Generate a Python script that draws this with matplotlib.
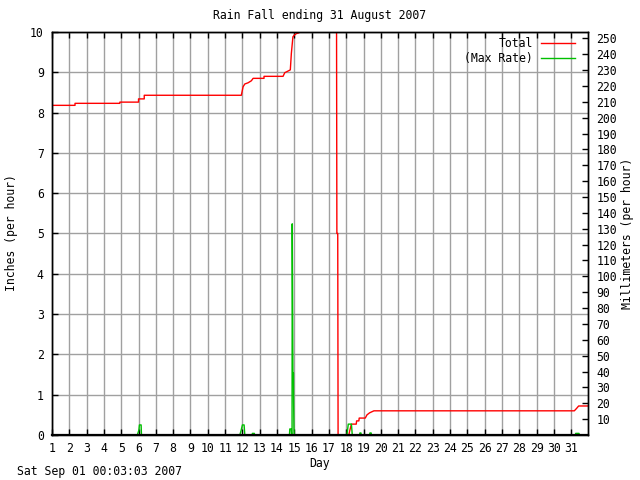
import numpy as np
import matplotlib
matplotlib.use("Agg")
import matplotlib.pyplot as plt

# Total rain (inches)
total_day = [1.0, 2.33, 2.33, 4.92, 4.92, 6.0, 6.0, 6.33, 6.33, 11.94, 12.04, 12.14,
             12.33, 12.52, 12.62, 13.25, 13.25, 14.35, 14.45, 14.77, 14.83, 14.92,
             15.02, 15.12, 15.27, 15.4, 17.44, 17.46, 17.51, 17.53, 18.15, 18.2,
             18.3, 18.58, 18.6, 18.73, 18.75, 19.1, 19.2, 19.35, 19.6, 31.18,
             31.31, 31.43, 31.97]
total_in = [8.18, 8.18, 8.23, 8.23, 8.26, 8.26, 8.34, 8.34, 8.43, 8.43, 8.64, 8.71,
            8.74, 8.79, 8.85, 8.85, 8.90, 8.90, 8.99, 9.06, 9.47, 9.88,
            9.93, 9.96, 9.98, 10.4, 10.4, 5.0, 5.0, 0.0, 0.0, 0.1,
            0.27, 0.27, 0.35, 0.35, 0.42, 0.42, 0.5, 0.55, 0.6, 0.6,
            0.66, 0.72, 0.72]

# Max rate (inches per hour)
rate_day = [1.0, 5.93, 6.02, 6.05, 6.15, 6.17, 11.85, 11.92, 12.0, 12.1, 12.14,
            12.56, 12.58, 12.69, 12.71, 14.72, 14.74, 14.82, 14.84, 14.87, 14.88,
            14.90, 14.92, 14.95, 14.96, 14.98, 15.0, 18.04, 18.12, 18.3, 18.35,
            18.77, 18.79, 18.85, 18.87, 19.35, 19.37, 19.44, 19.46, 31.24, 31.26,
            31.45, 31.47, 31.97]
rate_in = [0, 0, 0.12, 0.25, 0.25, 0, 0, 0.1, 0.25, 0.25, 0,
           0, 0.04, 0.04, 0, 0, 0.15, 0.15, 0, 0, 5.24,
           3.64, 1.54, 1.54, 0.83, 0.15, 0, 0, 0.27, 0.27, 0,
           0, 0.05, 0.05, 0, 0, 0.05, 0.05, 0, 0, 0.04,
           0.04, 0, 0]

day_ticks = list(range(1, 32))
inch_ticks = list(range(0, 11))
mm_ticks = list(range(10, 260, 10))

FS = 8.3
plt.rcParams['font.family'] = ['DejaVu Sans Mono']
plt.rcParams['font.size'] = FS

fig = plt.figure(figsize=(6.4, 4.8), dpi=100)
ax = fig.add_axes([52 / 640, 1 - 435 / 480, 536 / 640, 403 / 480])

ax.plot(total_day, total_in, color='#ff0000', lw=1.0, label='Total', zorder=2)
ax.plot(rate_day, rate_in, color='#00c000', lw=1.0, label='(Max Rate)', zorder=2)

ax.set_xlim(1, 31.97)
ax.set_ylim(0, 10)
ax.set_xticks(day_ticks)
ax.set_yticks(inch_ticks)
ax.grid(True, color='#a0a0a0', lw=1.0, zorder=1)
ax.set_axisbelow(True)
ax.tick_params(axis='x', direction='in', length=4, width=1, top=True, pad=5)
ax.tick_params(axis='y', direction='in', length=4, width=1, right=False, pad=6)
for s in ax.spines.values():
    s.set_linewidth(1)
    s.set_zorder(5)

ax2 = ax.twinx()
ax2.set_ylim(0, 254)
ax2.set_yticks(mm_ticks)
ax2.tick_params(axis='y', direction='in', length=4, width=1, pad=6)
for s in ax2.spines.values():
    s.set_linewidth(1)
ax2.spines['bottom'].set_linewidth(1.6)

leg = ax.legend(loc='upper right', bbox_to_anchor=(575 / 640, 1 - 37 / 480),
                bbox_transform=fig.transFigure, frameon=False, markerfirst=False,
                borderpad=0, borderaxespad=0, handlelength=2.95,
                handletextpad=0.7, labelspacing=0.2, fontsize=FS)

fig.text(0.5, 1 - 16 / 480, 'Rain Fall ending 31 August 2007', ha='center', va='center')
fig.text(320 / 640, 1 - 463 / 480, 'Day', ha='center', va='center')
fig.text(17 / 640, 1 - 471 / 480, 'Sat Sep 01 00:03:03 2007', ha='left', va='center')
fig.text(12 / 640, 1 - 233 / 480, 'Inches (per hour)', rotation=90, ha='center', va='center')
fig.text(628 / 640, 1 - 233 / 480, 'Millimeters (per hour)', rotation=90, ha='center', va='center')

fig.savefig('out.png', dpi=100)
